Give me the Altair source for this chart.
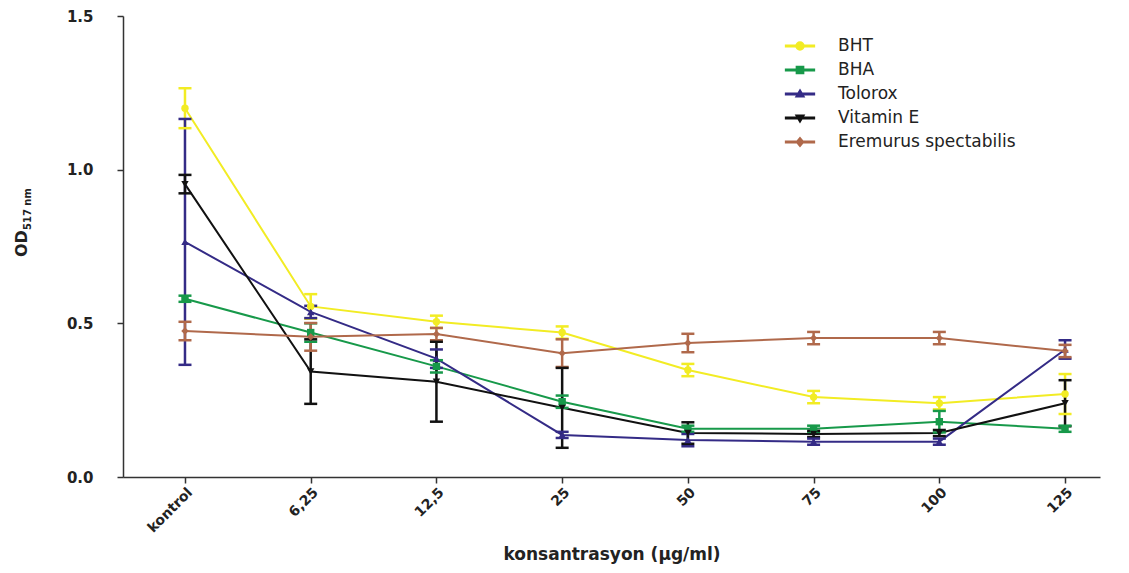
import altair as alt
import pandas as pd

categories = ["kontrol", "6,25", "12,5", "25", "50", "75", "100", "125"]
series = ["BHT", "BHA", "Tolorox", "Vitamin E", "Eremurus spectabilis"]

bht = [1.20, 0.555, 0.505, 0.47, 0.348, 0.26, 0.24, 0.27]
bht_err = [0.065, 0.04, 0.02, 0.02, 0.02, 0.02, 0.02, 0.065]
bha = [0.58, 0.47, 0.36, 0.245, 0.157, 0.157, 0.18, 0.157]
bha_err = [0.01, 0.03, 0.02, 0.02, 0.01, 0.01, 0.035, 0.01]
tolorox = [0.765, 0.537, 0.385, 0.137, 0.12, 0.115, 0.115, 0.415]
tolorox_err = [0.40, 0.02, 0.03, 0.01, 0.02, 0.01, 0.01, 0.03]
vitamin_e = [0.953, 0.343, 0.31, 0.225, 0.143, 0.14, 0.143, 0.24]
vitamin_e_err = [0.03, 0.105, 0.13, 0.13, 0.035, 0.01, 0.01, 0.075]
eremurus = [0.475, 0.456, 0.465, 0.403, 0.436, 0.452, 0.452, 0.41]
eremurus_err = [0.03, 0.045, 0.02, 0.045, 0.03, 0.02, 0.02, 0.02]

colors = ["#F2EC24", "#17994A", "#342B86", "#111111", "#B0694B"]
shapes = ["circle", "square", "triangle-up", "triangle-down", "diamond"]

# legend glyphs: short line with the series marker on it
LINE = "M-1.8,-0.1H1.8V0.1H-1.8Z"
legend_shapes = [
    LINE + "M0.5,0A0.5,0.5 0 1,1 -0.5,0A0.5,0.5 0 1,1 0.5,0Z",
    LINE + "M-0.45,-0.45H0.45V0.45H-0.45Z",
    LINE + "M0,-0.5L0.5,0.35L-0.5,0.35Z",
    LINE + "M0,0.5L-0.5,-0.35L0.5,-0.35Z",
    LINE + "M0,-0.55L0.45,0L0,0.55L-0.45,0Z",
]

values = [bht, bha, tolorox, vitamin_e, eremurus]
errors = [bht_err, bha_err, tolorox_err, vitamin_e_err, eremurus_err]

rows = []
for s, vals, errs in zip(series, values, errors):
    for k, (c, v, e) in enumerate(zip(categories, vals, errs)):
        rows.append({"series": s, "conc": c, "idx": k, "od": v, "lo": v - e, "hi": v + e})
df = pd.DataFrame(rows)

FONT = "DejaVu Sans"
cat_js = "[" + ",".join("'" + c + "'" for c in categories) + "]"

x_scale = alt.Scale(domain=[-0.493, 7.278], nice=False, zero=False)
x_enc = alt.X(
    "idx:Q",
    scale=x_scale,
    axis=alt.Axis(
        title="konsantrasyon (\u03bcg/ml)",
        values=list(range(len(categories))),
        labelExpr=cat_js + "[datum.value]",
        labelAngle=315,
        labelAlign="right",
        labelBaseline="top",
        labelFontSize=14,
        labelFontWeight="bold",
        labelFont=FONT,
        labelPadding=2,
        tickSize=6,
        titleFontSize=17,
        titleFontWeight="bold",
        titleFont=FONT,
        titlePadding=12,
        domainColor="#333333",
        tickColor="#333333",
        domainWidth=1.5,
        tickWidth=1.5,
        labelColor="#222222",
        titleColor="#222222",
        grid=False,
        labelFlush=False,
        labelOverlap=False,
    ),
)
y_scale = alt.Scale(domain=[0, 1.5], nice=False)
y_enc = alt.Y(
    "od:Q",
    scale=y_scale,
    axis=alt.Axis(
        title=None,
        values=[0, 0.5, 1.0, 1.5],
        format=".1f",
        labelFontSize=15,
        labelFontWeight="bold",
        labelFont=FONT,
        labelPadding=24,
        tickSize=6,
        domainColor="#333333",
        tickColor="#333333",
        domainWidth=1.5,
        tickWidth=1.5,
        labelColor="#222222",
        grid=False,
    ),
)

legend = alt.Legend(
    title=None,
    orient="none",
    legendX=668,
    legendY=21,
    labelFont=FONT,
    labelFontSize=17,
    labelColor="#222222",
    labelLimit=0,
    rowPadding=7,
    symbolSize=256,
    symbolOpacity=1,
    labelOffset=29,
)
color_enc = alt.Color("series:N", scale=alt.Scale(domain=series, range=colors), legend=legend)
shape_enc = alt.Shape("series:N", scale=alt.Scale(domain=series, range=legend_shapes), legend=legend)

base = alt.Chart(df)

lines = base.mark_line(strokeWidth=2).encode(
    x=x_enc, y=y_enc, color=color_enc, detail="series:N", order="idx:Q"
)
rules = base.mark_rule(strokeWidth=2.5).encode(
    x=x_enc, y=alt.Y("lo:Q", scale=y_scale), y2="hi:Q", color=color_enc
)
caps_lo = base.mark_tick(size=13, thickness=2.5, orient="horizontal", opacity=1).encode(
    x=x_enc, y=alt.Y("lo:Q", scale=y_scale), color=color_enc
)
caps_hi = base.mark_tick(size=13, thickness=2.5, orient="horizontal", opacity=1).encode(
    x=x_enc, y=alt.Y("hi:Q", scale=y_scale), color=color_enc
)
# one marker layer per series, each with its own marker shape
point_layers = [
    base.transform_filter(alt.datum.series == s)
    .mark_point(filled=True, size=55, opacity=1, shape=shp)
    .encode(x=x_enc, y=y_enc, color=color_enc)
    for s, shp in zip(series, shapes)
]
# invisible layer that only feeds the legend (line + marker glyphs)
legend_layer = base.mark_point(filled=True, opacity=0).encode(
    x=x_enc, y=y_enc, color=color_enc, shape=shape_enc
)

title_df = pd.DataFrame({"t": ["OD"]})
title_od = alt.Chart(title_df).mark_text(
    angle=270, align="left", baseline="middle", font=FONT, fontSize=16, fontWeight="bold", color="#222222"
).encode(x=alt.value(-101), y=alt.value(241), text="t:N")
sub_df = pd.DataFrame({"t": ["517 nm"]})
title_sub = alt.Chart(sub_df).mark_text(
    angle=270, align="left", baseline="middle", font=FONT, fontSize=10, fontWeight="bold", color="#222222"
).encode(x=alt.value(-95), y=alt.value(214), text="t:N")

chart = alt.layer(
    lines, rules, caps_lo, caps_hi, *point_layers, legend_layer, title_od, title_sub
).properties(
    width=977,
    height=461,
    autosize=alt.AutoSizeParams(type="none"),
    padding={"left": 123, "top": 16, "right": 29, "bottom": 96},
    background="white",
).configure_view(stroke=None)

chart.save("out.html", embed_options={"renderer": "svg", "actions": False})
